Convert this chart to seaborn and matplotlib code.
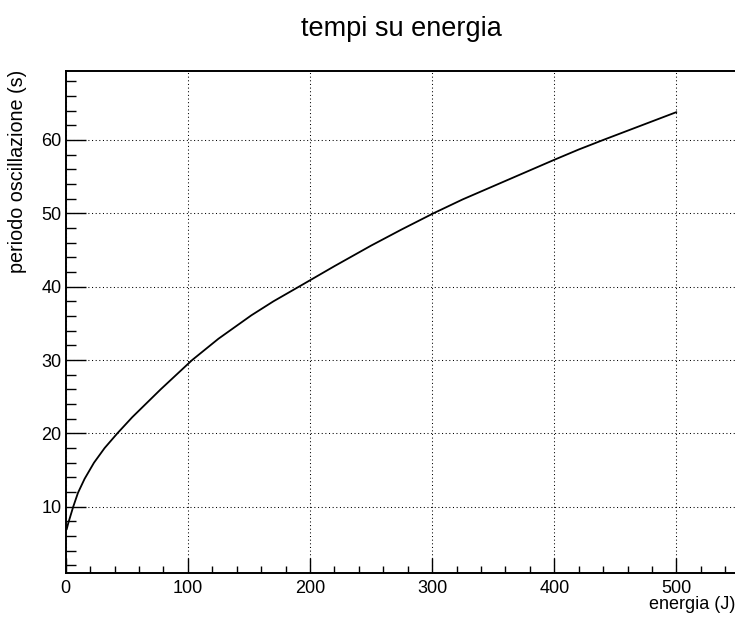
import matplotlib
matplotlib.use("Agg")
import matplotlib.pyplot as plt
from matplotlib.ticker import MultipleLocator
import numpy as np
import pandas as pd
import seaborn as sns

# energy (J) and oscillation period (s)
energia = [0.7, 2.1, 6.1, 10.0, 15.4, 23.1, 31.8, 42.2, 54.4, 77.7, 103.5,
           125.0, 152.0, 170.0, 193.0, 220.0, 250.0, 275.0, 301.0, 325.0,
           350.0, 375.0, 400.0, 420.0, 440.0, 470.0, 500.0]
periodo = [6.9, 7.8, 10.0, 11.9, 13.8, 16.0, 18.0, 20.0, 22.2, 26.0, 30.0,
           32.9, 36.1, 38.0, 40.2, 42.8, 45.6, 47.8, 50.0, 51.9,
           53.7, 55.5, 57.3, 58.7, 60.0, 61.9, 63.8]

titolo = "tempi su energia"
etichetta_x = "energia (J)"
etichetta_y = "periodo oscillazione (s)"

df = pd.DataFrame({"energia": energia, "periodo": periodo})

sns.set_theme(style="ticks")
plt.rcParams["font.family"] = ["Liberation Sans", "DejaVu Sans"]

fig = plt.figure(figsize=(7.35, 6.19), dpi=100)
ax = fig.add_axes([0.0895, 0.0743, 0.9105, 0.8115])

sns.lineplot(data=df, x="energia", y="periodo", ax=ax, color="black",
             linewidth=1.3, sort=False, estimator=None)
ax.lines[0].set_solid_joinstyle("round")

ax.set_xlim(0, 548)
ax.set_ylim(0.96, 69.45)

ax.xaxis.set_major_locator(MultipleLocator(100))
ax.xaxis.set_minor_locator(MultipleLocator(20))
ax.yaxis.set_major_locator(MultipleLocator(10))
ax.yaxis.set_minor_locator(MultipleLocator(2))

ax.grid(True, which="major", color="black", linewidth=0.75,
        linestyle=(0, (1, 2.5)))

ax.tick_params(axis="x", which="major", direction="in", length=10.8,
               width=1.0, color="black", labelsize=13, pad=5,
               labelcolor="black")
ax.tick_params(axis="x", which="minor", direction="in", length=5.4,
               width=1.0, color="black")
ax.tick_params(axis="y", which="major", direction="in", length=14.4,
               width=1.0, color="black", labelsize=13, pad=3,
               labelcolor="black")
ax.tick_params(axis="y", which="minor", direction="in", length=7.2,
               width=1.0, color="black")

for side in ("left", "bottom", "top"):
    ax.spines[side].set_color("black")
    ax.spines[side].set_linewidth(1.4)
ax.spines["right"].set_visible(False)

ax.set_xlabel("")
ax.set_ylabel("")

fig.text(0.5455, 1 - 28.7 / 619, titolo, ha="center", va="center",
         fontsize=19.5, color="black")
fig.text(1.0, 1 - 609 / 619, etichetta_x, ha="right", va="baseline",
         fontsize=13, color="black")
fig.text(23.5 / 735, 1 - 70 / 619, etichetta_y, ha="right", va="baseline",
         rotation=90, rotation_mode="anchor", fontsize=14.2, color="black")

fig.savefig("out.png", dpi=100, facecolor="white")
